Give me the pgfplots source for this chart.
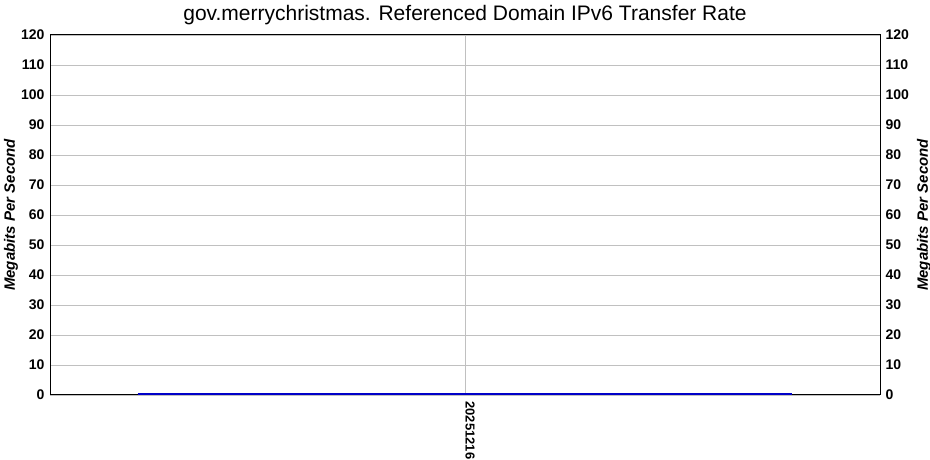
\documentclass[border=0pt]{standalone}
\usepackage{fontspec}
\setmainfont{Liberation Sans}
\usepackage{pgfplots}
\pgfplotsset{compat=1.18}
\definecolor{gridc}{RGB}{192,192,192}
\definecolor{linec}{RGB}{0,0,200}
\begin{document}
\begin{tikzpicture}[x=1bp,y=1bp]
\path[use as bounding box] (0,0) rectangle (930,460);
\pgfplotsset{
  common/.style={
    at={(50bp,65bp)}, anchor=south west, scale only axis,
    width=830bp, height=360bp,
    xmin=-0.634, xmax=0.634, ymin=0, ymax=120,
    ytick={0,10,...,120},
    /pgf/number format/assume math mode=true,
    tick style={draw=none},
    y tick label style={font=\fontsize{14bp}{16bp}\selectfont\bfseries},
    ylabel={Megabits Per Second},
    ylabel style={font=\fontsize{15bp}{17bp}\selectfont\bfseries\itshape},
  }
}
\begin{axis}[common,
  xtick={0}, xticklabels={20251216},
  x tick label style={rotate=-90, anchor=west, yshift=5bp, xshift=3bp, font=\fontsize{13bp}{15bp}\selectfont\bfseries},
  grid=major, major grid style={gridc, line width=0.8bp},
  axis line style={black, line width=1bp},
  y tick label style={xshift=-2bp},
  ylabel style={at={(axis description cs:-0.0470,0.5)}, anchor=center, rotate=0},
  clip=false,
]
\addplot[linec, line width=2bp] coordinates {(-0.5,0.25) (0.5,0.25)};
\end{axis}
\begin{axis}[common,
  axis x line=none, axis y line*=right,
  axis line style={black, line width=1bp},
  yticklabel pos=right,
  y tick label style={xshift=2bp},
  ylabel style={at={(axis description cs:1.0530,0.5)}, anchor=center},
  xtick=\empty,
]
\addplot[draw=none] coordinates {(0,0)};
\end{axis}
\node[font=\fontsize{21bp}{25bp}\selectfont, anchor=center] at (465,445) {gov.merrychristmas. Referenced Domain IPv6 Transfer Rate};
\end{tikzpicture}
\end{document}
